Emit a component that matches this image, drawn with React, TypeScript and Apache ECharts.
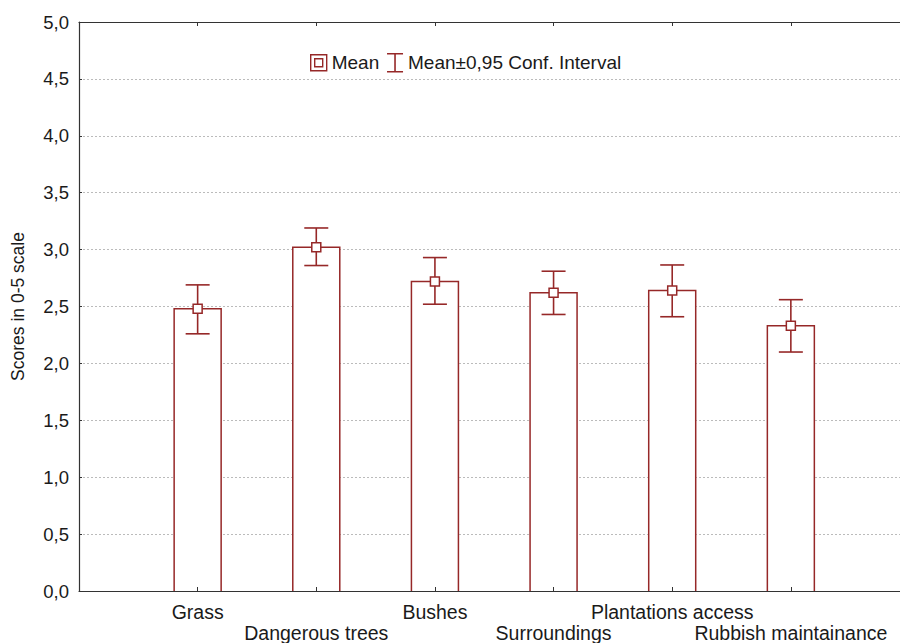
import React, { useEffect, useRef } from "react";
import * as echarts from "echarts";

const categories = ["Grass", "Dangerous trees", "Bushes", "Surroundings", "Plantations access", "Rubbish maintainance"];
const means = [2.48, 3.02, 2.72, 2.62, 2.64, 2.33];
const lowerCI = [2.26, 2.86, 2.52, 2.43, 2.41, 2.10];
const upperCI = [2.69, 3.19, 2.93, 2.81, 2.865, 2.56];
const yTicks = [0, 0.5, 1, 1.5, 2, 2.5, 3, 3.5, 4, 4.5, 5];

const RED = "#962828";
const FONT = "'Liberation Sans', Arial, sans-serif";

const meanIcon = "path://M0 0H16V16H0Z M4 4H12V12H4Z";
const ciIcon = "path://M0 0.5H16 M8 0.5V18.5 M0 18.5H16";

export default function App() {
  const ref = useRef<HTMLDivElement>(null);
  useEffect(() => {
    if (!ref.current) return;
    document.body.style.margin = "0";
    const chart = echarts.init(ref.current, null, { renderer: "svg" });
    const barData = means.map((m, i) => [i + 1, m]);
    const ciData = means.map((_, i) => [i + 1, lowerCI[i], upperCI[i]]);
    const fmt = (v: number) => v.toFixed(1).replace(".", ",");
    chart.setOption({
      animation: false,
      textStyle: { fontFamily: FONT },
      grid: { left: 79, top: 22, right: 0, height: 570 },
      legend: {
        left: 305,
        top: 48,
        itemGap: 7,
        itemWidth: 16,
        itemHeight: 19,
        textStyle: { fontSize: 19, color: "#1a1a1a", fontFamily: FONT },
        data: [
          {
            name: "Mean",
            icon: meanIcon,
            itemStyle: { color: "#fff", borderColor: RED, borderWidth: 1.4 },
          },
          {
            name: "Mean±0,95 Conf. Interval",
            icon: ciIcon,
            itemStyle: { color: "transparent", borderColor: RED, borderWidth: 1.6 },
          },
        ],
        selectedMode: false,
      },
      xAxis: [
        {
          type: "value",
          min: 0,
          max: 6.92,
          interval: 1,
          z: 10,
          axisLine: { show: true, lineStyle: { color: "#333", width: 1.2 } },
          axisTick: { show: true, inside: true, length: 4, lineStyle: { color: "#333" } },
          splitLine: { show: false },
          axisLabel: {
            margin: 10,
            fontSize: 19.5,
            color: "#1a1a1a",
            fontFamily: FONT,
            showMinLabel: false,
            showMaxLabel: false,
            formatter: (v: number) => {
              const i = Math.round(v) - 1;
              if (Math.abs(v - Math.round(v)) > 1e-6 || i < 0 || i >= categories.length) return "";
              return i % 2 === 0 ? categories[i] : "\n" + categories[i];
            },
            lineHeight: 21,
          },
        },
        {
          type: "value",
          position: "top",
          min: 0,
          max: 6.92,
          interval: 1,
          z: 10,
          axisLine: { show: true, onZero: false, lineStyle: { color: "#333", width: 1.2 } },
          axisTick: { show: true, inside: true, length: 4, lineStyle: { color: "#333" } },
          axisLabel: { show: false },
          splitLine: { show: false },
        },
      ],
      yAxis: {
        type: "value",
        min: 0,
        max: 5,
        interval: 0.5,
        name: "Scores in 0-5 scale",
        nameLocation: "middle",
        nameGap: 52,
        nameTextStyle: { fontSize: 17.5, color: "#1a1a1a", fontFamily: FONT },
        axisLine: { show: true, lineStyle: { color: "#333", width: 1.2 } },
        axisTick: { show: true, inside: true, length: 3, lineStyle: { color: "#333" } },
        axisLabel: {
          margin: 10,
          fontSize: 18.5,
          color: "#1a1a1a",
          fontFamily: FONT,
          formatter: (v: number) => (yTicks.includes(v) ? fmt(v) : ""),
        },
        splitLine: { show: true, lineStyle: { color: "#bbb", type: [2, 2], width: 1 } },
      },
      series: [
        {
          name: "Bars",
          type: "custom",
          data: barData,
          z: 2,
          renderItem: (params: any, api: any) => {
            const x = api.value(0);
            const top = api.coord([x, api.value(1)]);
            const base = api.coord([x, 0]);
            const w = 47;
            const l = top[0] - w / 2;
            const r = top[0] + w / 2;
            return {
              type: "group",
              children: [
                {
                  type: "rect",
                  shape: { x: l, y: top[1], width: w, height: base[1] - top[1] },
                  style: { fill: "#fff", stroke: "none" },
                },
                {
                  type: "polyline",
                  shape: { points: [[l, base[1]], [l, top[1]], [r, top[1]], [r, base[1]]] },
                  style: { fill: "none", stroke: RED, lineWidth: 1.5 },
                },
              ],
            };
          },
        },
        {
          name: "Mean±0,95 Conf. Interval",
          type: "custom",
          data: ciData,
          z: 3,
          itemStyle: { color: RED },
          renderItem: (params: any, api: any) => {
            const x = api.value(0);
            const lo = api.coord([x, api.value(1)]);
            const hi = api.coord([x, api.value(2)]);
            const half = 12;
            const style = { stroke: RED, lineWidth: 1.6, fill: "none" };
            return {
              type: "group",
              children: [
                { type: "line", shape: { x1: lo[0], y1: lo[1], x2: hi[0], y2: hi[1] }, style },
                { type: "line", shape: { x1: lo[0] - half, y1: lo[1], x2: lo[0] + half, y2: lo[1] }, style },
                { type: "line", shape: { x1: hi[0] - half, y1: hi[1], x2: hi[0] + half, y2: hi[1] }, style },
              ],
            };
          },
        },
        {
          name: "Mean",
          type: "scatter",
          data: barData,
          symbol: "rect",
          symbolSize: 9,
          itemStyle: { color: "#fff", borderColor: RED, borderWidth: 1.5, opacity: 1 },
          z: 4,
        },
      ],
    });
    return () => chart.dispose();
  }, []);
  return <div ref={ref} style={{ width: 900, height: 643, background: "#fff" }} />;
}
